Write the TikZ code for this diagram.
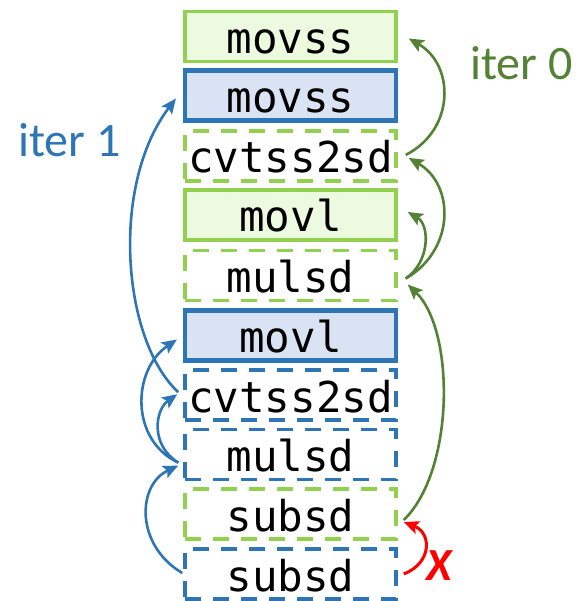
\documentclass[tikz,border=0pt]{standalone}
\usepackage{fontspec}
\setmainfont{Carlito}
\newfontfamily\monofont{DejaVu Sans Mono}
\usetikzlibrary{arrows.meta,calc}

\definecolor{lgreen}{RGB}{146,208,80}
\definecolor{lgreenfill}{RGB}{236,250,224}
\definecolor{dgreen}{RGB}{84,130,53}
\definecolor{mblue}{RGB}{46,117,182}
\definecolor{lbluefill}{RGB}{218,227,243}

\tikzset{
  instr/.style={rectangle, minimum width=211pt, minimum height=50pt, inner sep=0pt,
    text height=34pt, text depth=0pt, font=\monofont\fontsize{42.5}{42.5}\selectfont},
  gsolid/.style={instr, draw=lgreen, fill=lgreenfill, line width=3.5pt},
  bsolid/.style={instr, draw=mblue, fill=lbluefill, line width=4.2pt},
  gdash/.style={instr, draw=lgreen, fill=white, line width=3.5pt, dash pattern=on 16pt off 12pt},
  bdash/.style={instr, draw=mblue, fill=white, line width=3.5pt, dash pattern=on 16pt off 12pt},
  dep/.style={line width=2.6pt, -{Stealth[length=15pt,width=13pt,inset=3pt]}},
  gdep/.style={dep, draw=dgreen},
  bdep/.style={dep, draw=mblue},
  rdep/.style={dep, draw=red, line width=3pt},
  itlabel/.style={font=\fontsize{48}{48}\selectfont, inner sep=0pt},
}

\begin{document}
\begin{tikzpicture}[x=1pt,y=-1pt]
\useasboundingbox (0,0) rectangle (576,601);

% instruction stack
\node[gsolid] (b1)  at (290.5,36.5)  {movss};
\node[bsolid] (b2)  at (290.5,95.5)  {movss};
\node[gdash]  (b3)  at (290.5,155.9) {cvtss2sd};
\node[gsolid] (b4)  at (290.5,215.0) {movl};
\node[gdash]  (b5)  at (290.5,275.5) {mulsd};
\node[bsolid] (b6)  at (290.5,335.5) {movl};
\node[bdash]  (b7)  at (290.5,395.2) {cvtss2sd};
\node[bdash]  (b8)  at (290.5,454.6) {mulsd};
\node[gdash]  (b9)  at (290.5,514.0) {subsd};
\node[bdash]  (b10) at (290.5,574.0) {subsd};

% iteration labels
\node[itlabel, text=mblue, anchor=base west] (it1) at (18,157) {iter 1};
\node[itlabel, text=dgreen, anchor=base west] (it0) at (470,80) {iter 0};

% iteration 0 dependences (right side)
\draw[gdep] ($(b3.east)+(8,-1)$) .. controls (455,130) and (455,65) .. ($(b1.east)+(11,2)$);
\draw[gdep] ($(b5.east)+(8,3)$) .. controls (455,250) and (455,185) .. ($(b3.east)+(11,2)$);
\draw[gdep] ($(b5.east)+(8,3)$) .. controls (430,262) and (430,225) .. ($(b4.east)+(10,-3)$);
\draw[gdep] ($(b9.east)+(6,6)$) .. controls (455,470) and (455,330) .. ($(b5.east)+(10,9)$);

% blocked dependence between iterations
\draw[rdep] ($(b10.east)+(6,0)$) .. controls (432,563) and (432,533) .. ($(b9.east)+(6,8)$);
\node[font=\bfseries\itshape\fontsize{46}{46}\selectfont, text=red, inner sep=0pt, anchor=base] (nx) at (439,580) {X};

% iteration 1 dependences (left side)
\draw[bdep] ($(b7.west)+(-5,-3)$) .. controls (122,340) and (110,185) .. ($(b2.west)+(-7,3)$);
\draw[bdep] ($(b8.west)+(-5,8)$) .. controls (130,440) and (132,370) .. ($(b6.west)+(-6,4)$);
\draw[bdep] ($(b8.west)+(-5,8)$) .. controls (150,445) and (155,410) .. ($(b7.west)+(-6,-1)$);
\draw[bdep] ($(b10.west)+(-1,-1)$) .. controls (135,545) and (137,485) .. ($(b8.west)+(-5,11)$);
\end{tikzpicture}
\end{document}
